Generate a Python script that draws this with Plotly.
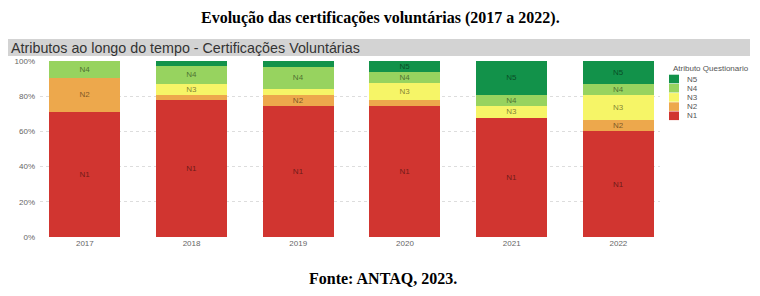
import plotly.graph_objects as go

years = ["2017", "2018", "2019", "2020", "2021", "2022"]
levels = ["N1", "N2", "N3", "N4", "N5"]
n1 = [71.0, 77.7, 74.4, 74.4, 67.8, 60.2]
n2 = [19.5, 2.8, 6.1, 3.3, 0.0, 6.5]
n3 = [0.0, 6.7, 3.6, 9.6, 6.6, 13.8]
n4 = [9.5, 9.8, 12.7, 6.3, 6.3, 6.4]
n5 = [0.0, 3.0, 3.2, 6.4, 19.5, 13.1]
series = [n1, n2, n3, n4, n5]
colors = ["#D13530", "#EDA84C", "#F6F567", "#97D35F", "#12924A"]
y_ticks = [0, 20, 40, 60, 80, 100]
y_tick_labels = ["0%", "20%", "40%", "60%", "80%", "100%"]

W, H = 760, 296
L, R, T, B = 40, 100, 61, 59
pw, ph = W - L - R, H - T - B


def px(x):
    return (x - L) / pw


def py(y):
    return (H - B - y) / ph


fig = go.Figure()
for name, vals, col in zip(levels, series, colors):
    fig.add_trace(go.Bar(
        x=years, y=vals, name=name, marker=dict(color=col, line=dict(width=0)),
        text=[name if v >= 5 else "" for v in vals],
        textposition="inside", insidetextanchor="middle", textangle=0,
        constraintext="none",
        textfont=dict(family="Liberation Sans, Arial", size=8, color="rgba(0,0,0,0.5)"),
        showlegend=False,
    ))

shapes = [dict(type="rect", xref="paper", yref="paper",
               x0=px(8), x1=px(750), y0=py(56), y1=py(39),
               fillcolor="#D3D3D3", line=dict(width=0), layer="below")]
annotations = [
    dict(text="<b>Evolução das certificações voluntárias (2017 a 2022).</b>",
         xref="paper", yref="paper", x=px(380), y=py(18), xanchor="center", yanchor="middle",
         showarrow=False, font=dict(family="Liberation Serif, Times New Roman", size=16, color="#000")),
    dict(text="Atributos ao longo do tempo - Certificações Voluntárias",
         xref="paper", yref="paper", x=px(9), y=py(47.5), xanchor="left", yanchor="middle",
         showarrow=False, font=dict(family="Liberation Sans, Arial", size=14.3, color="#333")),
    dict(text="<b>Fonte: ANTAQ, 2023.</b>",
         xref="paper", yref="paper", x=px(383), y=py(278), xanchor="center", yanchor="middle",
         showarrow=False, font=dict(family="Liberation Serif, Times New Roman", size=16, color="#000")),
    dict(text="Atributo Questionario",
         xref="paper", yref="paper", x=px(671), y=py(68), xanchor="left", yanchor="middle",
         showarrow=False, font=dict(family="Liberation Sans, Arial", size=8, color="#555")),
]
# custom compact legend (N5 at top)
for i, (name, col) in enumerate(reversed(list(zip(levels, colors)))):
    cy = 79 + i * 9.2
    shapes.append(dict(type="rect", xref="paper", yref="paper",
                       x0=px(669), x1=px(679), y0=py(cy + 4.3), y1=py(cy - 4.3),
                       fillcolor=col, line=dict(width=0)))
    annotations.append(dict(text=name, xref="paper", yref="paper", x=px(685), y=py(cy),
                            xanchor="left", yanchor="middle", showarrow=False,
                            font=dict(family="Liberation Sans, Arial", size=8, color="#555")))

fig.update_layout(
    width=W, height=H, margin=dict(l=L, r=R, t=T, b=B),
    barmode="stack", bargap=0.335,
    paper_bgcolor="white", plot_bgcolor="white",
    shapes=shapes, annotations=annotations,
    xaxis=dict(type="category", range=[-0.42, 5.39], showgrid=False, zeroline=False,
               showline=False, ticks="", tickfont=dict(family="Liberation Sans, Arial", size=8, color="#666")),
    yaxis=dict(range=[0, 100], tickvals=y_ticks, ticktext=y_tick_labels, showgrid=True,
               gridcolor="#DDDDDD", griddash="dot", gridwidth=1, zeroline=False, showline=False,
               ticks="", ticklabelstandoff=4,
               tickfont=dict(family="Liberation Sans, Arial", size=8, color="#666")),
)
fig.write_html("out.html")
